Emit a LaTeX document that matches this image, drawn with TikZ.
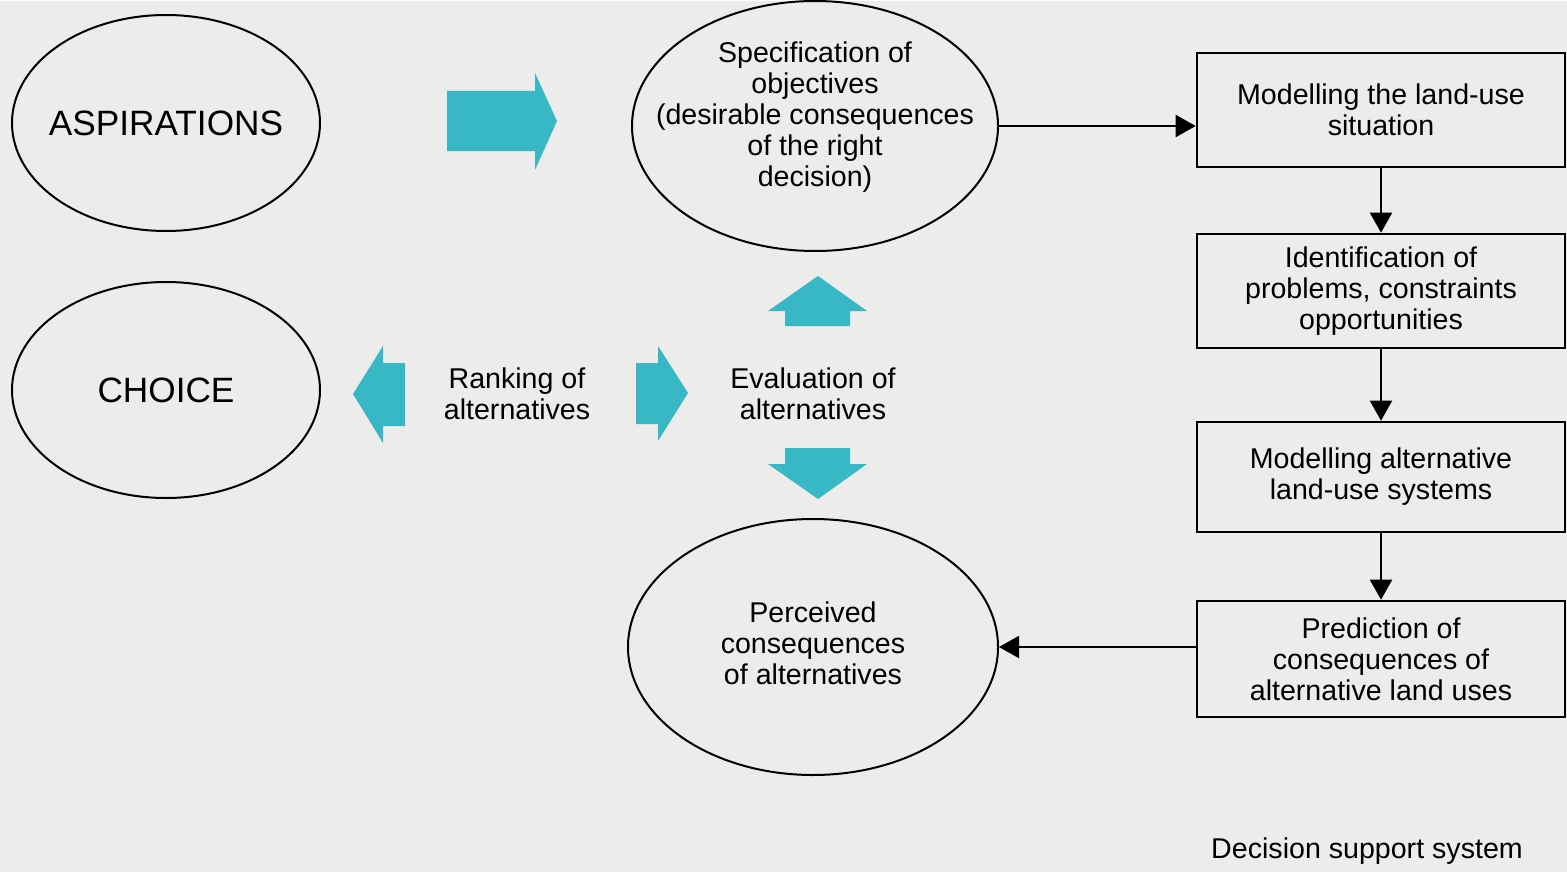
\documentclass[tikz,border=0pt]{standalone}
\usepackage{fontspec}
\setmainfont{Liberation Sans}
\usepackage{xcolor}
\usetikzlibrary{shapes.geometric,arrows.meta}

\definecolor{tealarrow}{RGB}{56,184,196}
\definecolor{paper}{RGB}{236,236,235}

\begin{document}
\begin{tikzpicture}[x=0.5pt,y=0.5pt,yscale=-1,xscale=1,
  ell/.style={draw,ellipse,line width=1pt,inner sep=0pt},
  txt/.style={align=center,inner sep=0pt,font=\fontsize{14.3}{15.5}\selectfont},
  big/.style={inner sep=0pt,font=\fontsize{17.6}{20}\selectfont},
  box/.style={draw,line width=1.3pt,minimum width=184pt,minimum height=57pt,inner sep=0pt,align=center,font=\fontsize{14.3}{15.5}\selectfont},
  link/.style={line width=1pt,-{Triangle[length=10pt,width=11pt]}},
  blockarrow/.style={fill=tealarrow,draw=none}]
%set diagram size: 1567 x 871
\fill [paper] (0,0) rectangle (1567,871);

%Shape: Ellipse [aspirations]
\node [ell,minimum width=154pt,minimum height=108pt,label={[big]center:ASPIRATIONS}] (aspir) at (166,122) {};
%Shape: Ellipse [choice]
\node [ell,minimum width=154pt,minimum height=108pt,label={[big]center:CHOICE}] (choice) at (166,389) {};
%Shape: Ellipse [objectives]
\node [ell,minimum width=183pt,minimum height=125pt,label={[txt,yshift=4.5pt]center:Specification of\\objectives\\(desirable consequences\\of the right\\decision)}] (spec) at (815,125) {};
%Shape: Ellipse [perceived]
\node [ell,minimum width=185pt,minimum height=128pt,label={[txt,yshift=2pt]center:Perceived\\consequences\\of alternatives}] (percv) at (813,646) {};

%Shape: Rectangle [decision support system]
\node [box] (model) at (1381,109) {Modelling the land-use\\situation};
\node [box] (ident) at (1381,290) {Identification of\\problems, constraints\\opportunities};
\node [box,minimum height=55pt] (altsys) at (1381,476) {Modelling alternative\\land-use systems};
\node [box,minimum height=58pt] (predict) at (1381,658) {Prediction of\\consequences of\\alternative land uses};

% Text Node
\node [txt] (rank) at (517,393) {Ranking of\\alternatives};
% Text Node
\node [txt] (evalu) at (813,393) {Evaluation of\\alternatives};
% Text Node
\node [txt] (dss) at (1367,850) {Decision support system};

%Connectors
\draw [link] (spec.east) -- (spec.east -| model.west);
\draw [link] (model) -- (ident);
\draw [link] (ident) -- (altsys);
\draw [link] (altsys) -- (predict);
\draw [link] (predict.west |- percv.east) -- (percv.east);

%Right Arrow [aspirations to objectives]
\fill [blockarrow] (447,90) -- (535,90) -- (535,72) -- (557,120) -- (535,169) -- (535,150) -- (447,150) -- cycle ;
%Up Arrow [evaluation to objectives]
\fill [blockarrow] (785,325) -- (785,310) -- (768,310) -- (818,275) -- (867,310) -- (850,310) -- (850,325) -- cycle ;
%Down Arrow [evaluation to perceived]
\fill [blockarrow] (785,447) -- (850,447) -- (850,463) -- (867,463) -- (818,498) -- (768,463) -- (785,463) -- cycle ;
%Left Arrow [ranking to choice]
\fill [blockarrow] (405,362) -- (383,362) -- (383,345) -- (353,393) -- (383,442) -- (383,425) -- (405,425) -- cycle ;
%Right Arrow [ranking to evaluation]
\fill [blockarrow] (636,362) -- (658,362) -- (658,345) -- (688,392) -- (658,440) -- (658,423) -- (636,423) -- cycle ;

\end{tikzpicture}
\end{document}
